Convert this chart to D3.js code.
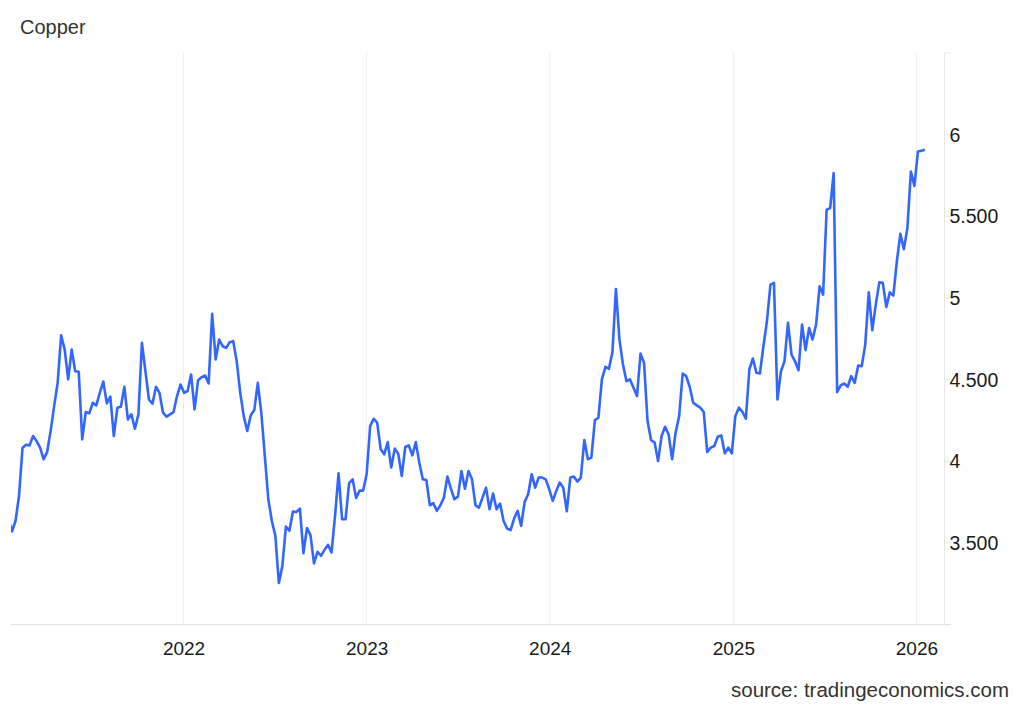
<!DOCTYPE html>
<html><head><meta charset="utf-8">
<script src="https://cdn.jsdelivr.net/npm/d3@7"></script>
<style>
body{margin:0;background:#fff}
svg{display:block}
text{font-family:"Liberation Sans",Arial,Helvetica,sans-serif}
</style>
</head><body>
<svg id="chart" width="1024" height="710"></svg>
<script>
// ---- data ----
const chartTitle = "Copper";
const sourceText = "source: tradingeconomics.com";
const firstWeek = "2021-01-17";          // weekly observations
const prices = [
3.642,3.567,3.631,3.784,4.080,4.098,4.094,4.151,4.120,4.080,
4.009,4.053,4.182,4.334,4.477,4.768,4.681,4.498,4.681,4.548,
4.545,4.131,4.298,4.290,4.355,4.339,4.416,4.485,4.351,4.392,
4.151,4.324,4.331,4.453,4.253,4.284,4.196,4.284,4.722,4.548,
4.375,4.349,4.453,4.416,4.294,4.270,4.284,4.298,4.396,4.467,
4.416,4.426,4.528,4.314,4.493,4.512,4.522,4.473,4.899,4.620,
4.742,4.701,4.691,4.726,4.732,4.609,4.416,4.273,4.182,4.278,
4.310,4.477,4.294,4.029,3.764,3.631,3.540,3.251,3.356,3.597,
3.571,3.689,3.686,3.707,3.434,3.587,3.546,3.371,3.442,3.418,
3.454,3.485,3.438,3.662,3.923,3.642,3.642,3.862,3.886,3.772,
3.817,3.817,3.917,4.212,4.257,4.233,4.070,4.039,4.114,3.958,
4.074,4.043,3.906,4.084,4.094,4.033,4.114,3.988,3.886,3.882,
3.727,3.740,3.693,3.727,3.774,3.903,3.829,3.764,3.780,3.937,
3.829,3.937,3.886,3.727,3.713,3.774,3.835,3.703,3.799,3.703,
3.738,3.631,3.585,3.575,3.646,3.693,3.601,3.748,3.795,3.917,
3.835,3.897,3.897,3.886,3.825,3.754,3.815,3.866,3.835,3.690,
3.897,3.903,3.872,3.897,4.127,4.009,4.019,4.249,4.263,4.498,
4.575,4.563,4.665,5.052,4.742,4.589,4.487,4.498,4.447,4.396,
4.656,4.600,4.243,4.127,4.111,3.998,4.151,4.208,4.161,4.009,
4.172,4.273,4.534,4.518,4.453,4.355,4.339,4.325,4.298,4.053,
4.080,4.090,4.147,4.155,4.045,4.080,4.045,4.273,4.325,4.300,
4.257,4.560,4.626,4.539,4.534,4.701,4.854,5.078,5.089,4.375,
4.548,4.609,4.844,4.650,4.609,4.554,4.834,4.677,4.813,4.742,
4.834,5.068,5.017,5.537,5.547,5.761,4.420,4.461,4.473,4.453,
4.518,4.477,4.583,4.579,4.711,5.031,4.799,4.956,5.092,5.089,
4.942,5.031,5.011,5.221,5.390,5.296,5.425,5.771,5.683,5.893,
5.899,5.905
];
const yTickValues = [3.5, 4, 4.5, 5, 5.5, 6];
const yTickLabels = ["3.500", "4", "4.500", "5", "5.500", "6"];
const xTickYears = ["2022", "2023", "2024", "2025", "2026"];
const xDomainDates = ["2021-01-22", "2026-02-25"];
const yDomainValues = [3, 6.5];

// ---- drawing ----
const parse = d3.timeParse("%Y-%m-%d");
const start = parse(firstWeek);
const data = prices.map((v, i) => ({ date: d3.timeDay.offset(start, 7 * i), value: v }));

const box = { left: 11, right: 944, top: 52.5, bottom: 624 };
const x = d3.scaleTime().domain(xDomainDates.map(parse)).range([box.left, box.right]);
const y = d3.scaleLinear().domain(yDomainValues).range([box.bottom, box.top]);

const svg = d3.select("#chart");

svg.append("text").attr("x", 20).attr("y", 34)
  .attr("font-size", 20).attr("fill", "#333").text(chartTitle);

// vertical year gridlines
const yearDates = xTickYears.map(s => d3.timeParse("%Y")(s));
svg.append("g").selectAll("line").data(yearDates).join("line")
  .attr("x1", d => x(d)).attr("x2", d => x(d))
  .attr("y1", box.top).attr("y2", box.bottom)
  .attr("stroke", "#edf0f4").attr("stroke-width", 1);

// horizontal gridlines + right labels
const yAxis = d3.axisRight(y)
  .tickValues(yTickValues.concat([yDomainValues[1]]))
  .tickFormat(v => { const k = yTickValues.indexOf(v); return k >= 0 ? yTickLabels[k] : ""; })
  .tickSizeInner(-(box.right - box.left)).tickSizeOuter(0).tickPadding(6);
const gy = svg.append("g").attr("transform", `translate(${box.right},0)`).call(yAxis);
gy.select(".domain").attr("stroke", "#e6e6e6");
gy.selectAll(".tick line").attr("stroke", "#e6e6e6").attr("x2", 7);
gy.selectAll(".tick text").attr("x", 5.5).attr("dy", "0.36em")
  .attr("font-size", 19.5).attr("fill", "#1a1a1a")
  .attr("font-family", '"Liberation Sans",Arial,Helvetica,sans-serif');

// bottom axis
const xAxis = d3.axisBottom(x).tickValues(yearDates).tickFormat(d3.timeFormat("%Y"))
  .tickSize(0).tickPadding(18);
const gx = svg.append("g").attr("transform", `translate(0,${box.bottom})`).call(xAxis);
gx.select(".domain").attr("stroke", "#e2e2e2").attr("d", `M${box.left},0.5H${box.right + 7}`);
gx.selectAll(".tick text").attr("font-size", 19).attr("fill", "#1a1a1a")
  .attr("font-family", '"Liberation Sans",Arial,Helvetica,sans-serif');

// line
svg.append("clipPath").attr("id", "plotclip").append("rect")
  .attr("x", box.left).attr("y", box.top - 5)
  .attr("width", box.right - box.left).attr("height", box.bottom - box.top + 5);
const line = d3.line().x(d => x(d.date)).y(d => y(d.value));
svg.append("path").datum(data)
  .attr("clip-path", "url(#plotclip)")
  .attr("fill", "none").attr("stroke", "#3366ff").attr("stroke-width", 2.6)
  .attr("stroke-linejoin", "round").attr("d", line);

svg.append("text").attr("x", 1009).attr("y", 697).attr("text-anchor", "end")
  .attr("font-size", 20.5).attr("fill", "#333").text(sourceText);
</script>
</body></html>
